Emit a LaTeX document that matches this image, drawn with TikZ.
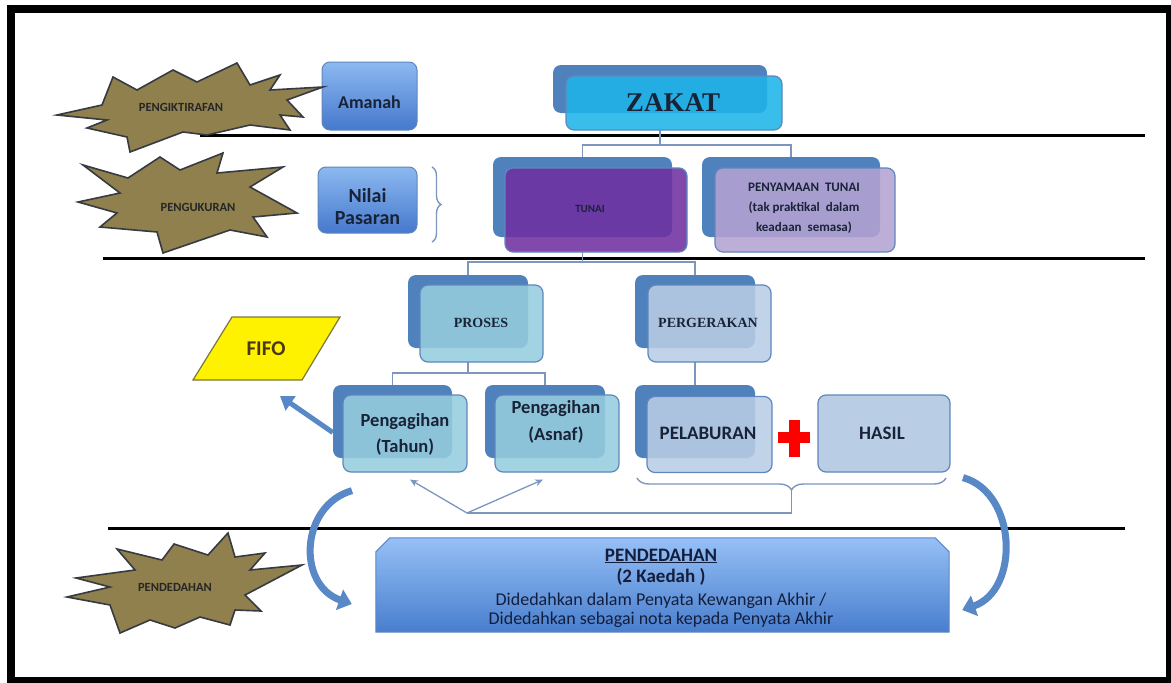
\documentclass[tikz,border=0pt]{standalone}
\usepackage{fontspec}
\setmainfont{Carlito}
\newfontfamily\titlefont{Liberation Serif}
\usetikzlibrary{arrows.meta,decorations.pathreplacing,calc}

\definecolor{smartblue}{RGB}{79,129,189}
\definecolor{boxedge}{RGB}{95,135,190}
\definecolor{connline}{RGB}{125,150,190}
\definecolor{starfill}{RGB}{143,128,78}
\definecolor{staredge}{RGB}{55,58,65}
\definecolor{cyanfront}{RGB}{30,180,232}
\definecolor{purplefront}{RGB}{112,48,160}
\definecolor{lavender}{RGB}{180,163,210}
\definecolor{tealfront}{RGB}{150,205,222}
\definecolor{steelfront}{RGB}{185,205,229}
\definecolor{btop}{RGB}{140,185,240}
\definecolor{bbot}{RGB}{70,120,205}
\definecolor{ptop}{RGB}{150,192,246}
\definecolor{pbot}{RGB}{72,126,206}
\definecolor{arrowblue}{RGB}{88,136,198}
\definecolor{inktext}{RGB}{25,35,55}
\definecolor{fifoedge}{RGB}{120,120,60}
\definecolor{fifotext}{RGB}{75,55,20}

\tikzset{
  backbox/.style={fill=smartblue, rounded corners=8pt, inner sep=0pt},
  frontbox/.style={draw=boxedge, line width=1.2pt, rounded corners=8pt, inner sep=0pt, fill opacity=0.88},
  bluebox/.style={draw=boxedge, line width=1pt, rounded corners=8pt, top color=btop, bottom color=bbot, inner sep=0pt},
  boxtext/.style={inner sep=0pt, align=center, text=inktext},
  conn/.style={draw=connline, line width=1.4pt},
  starshape/.style={fill=starfill, draw=staredge, line width=1.6pt, line join=miter},
  starlabel/.style={inner sep=0pt, font=\bfseries\fontsize{12.5}{14}\selectfont, text=black!85},
  divider/.style={line width=3pt, black},
  bigarrow/.style={draw=arrowblue, line width=7pt, -{Triangle[width=21pt,length=13pt]}},
  thinarrow/.style={draw=connline, line width=1.3pt, -{Stealth[length=8pt,width=7pt]}}
}

\begin{document}
\begin{tikzpicture}[x=1pt,y=-1pt]
\useasboundingbox (0,0) rectangle (1171,683);
\clip (0,0) rectangle (1171,683);
\fill[white] (0,0) rectangle (1171,683);
% outer frame
\draw[line width=8pt] (11,9) rectangle (1170,681);

% section dividers
\draw[divider] (200,135) -- (1145,135);
\draw[divider] (103,258) -- (1145,258);
\draw[divider] (108,528) -- (1125,528);

% ---- boxes: back plates ----
\node[backbox, minimum width=214pt, minimum height=48pt] (zakatB) at (660,89) {};
\node[backbox, minimum width=179pt, minimum height=80pt] (tunaiB) at (582.5,197) {};
\node[backbox, minimum width=178pt, minimum height=80pt] (penyB) at (791,197) {};
\node[backbox, minimum width=120pt, minimum height=73pt] (prosesB) at (468,311.5) {};
\node[backbox, minimum width=120pt, minimum height=73pt] (pergB) at (695,311.5) {};
\node[backbox, minimum width=119pt, minimum height=73pt] (tahunB) at (392.5,421.5) {};
\node[backbox, minimum width=120pt, minimum height=73pt] (asnafB) at (545,421.5) {};
\node[backbox, minimum width=120pt, minimum height=73pt] (pelabB) at (695,421.5) {};

% ---- tree connectors ----
\draw[conn] (zakatB.center |- 0,130) -- (zakatB.center |- 0,145) -| (tunaiB.north);
\draw[conn] (zakatB.center |- 0,145) -| (penyB.north);
\draw[conn] (tunaiB.center |- 0,252) -- (tunaiB.center |- 0,262) -| (prosesB.north);
\draw[conn] (tunaiB.center |- 0,262) -| (pergB.north);
\draw[conn] (prosesB.center |- 0,362) -- (prosesB.center |- 0,373) -| (tahunB.north);
\draw[conn] (prosesB.center |- 0,373) -| (asnafB.north);
\draw[conn] (pergB.center |- 0,362) -- (pelabB.north);

% ---- boxes: front plates ----
\node[frontbox, fill=cyanfront, minimum width=216pt, minimum height=54pt] (zakatF) at (674,103) {};
\node[frontbox, fill=purplefront, minimum width=182pt, minimum height=84pt] (tunaiF) at (596,210) {};
\node[frontbox, fill=lavender, minimum width=180pt, minimum height=84pt] (penyF) at (805,210) {};
\node[frontbox, fill=tealfront, minimum width=123pt, minimum height=77pt] (prosesF) at (481.5,323.5) {};
\node[frontbox, fill=steelfront, minimum width=123pt, minimum height=77pt] (pergF) at (709.5,323.5) {};
\node[frontbox, fill=tealfront, minimum width=124pt, minimum height=77pt] (tahunF) at (405,433.5) {};
\node[frontbox, fill=tealfront, minimum width=124pt, minimum height=77pt] (asnafF) at (557,433.5) {};
\node[frontbox, fill=steelfront, minimum width=125pt, minimum height=76pt] (pelabF) at (709.5,434.5) {};
\node[frontbox, fill=steelfront, fill opacity=1, minimum width=132pt, minimum height=77pt] (hasil) at (884,433.5) {};

% ---- box texts ----
\node[boxtext, font=\titlefont\bfseries\fontsize{27}{28}\selectfont] (zakatT) at (673,103) {ZAKAT};
\node[boxtext, font=\bfseries\fontsize{11}{12}\selectfont] (tunaiT) at (590,209) {TUNAI};
\node[boxtext, font=\bfseries\fontsize{13}{20}\selectfont] (penyT) at (804,208) {PENYAMAAN~~TUNAI\\(tak praktikal~ dalam\\keadaan~ semasa)};
\node[boxtext, font=\titlefont\bfseries\fontsize{14}{15}\selectfont] (prosesT) at (481,323) {PROSES};
\node[boxtext, font=\titlefont\bfseries\fontsize{14}{15}\selectfont] (pergT) at (708,323) {PERGERAKAN};
\node[boxtext, font=\bfseries\fontsize{18.5}{26}\selectfont] (tahunT) at (405,434) {Pengagihan\\(Tahun)};
\node[boxtext, font=\bfseries\fontsize{18.5}{27}\selectfont] (asnafT) at (556,421.5) {Pengagihan\\(Asnaf)};
\node[boxtext, font=\bfseries\fontsize{19}{20}\selectfont] (pelabT) at (708,433) {PELABURAN};
\node[boxtext, font=\bfseries\fontsize{19}{20}\selectfont] (hasilT) at (882,433) {HASIL};

% red plus between investment and return
\fill[red] (789,420) rectangle (800,457);
\fill[red] (778,432) rectangle (810,443);

% ---- left column boxes ----
\node[bluebox, minimum width=95pt, minimum height=68pt] (amanah) at (369.5,96) {};
\node[boxtext, font=\bfseries\fontsize{18}{20}\selectfont] (amanahT) at (369.5,102) {Amanah};
\node[bluebox, minimum width=99pt, minimum height=66pt] (nilai) at (367.5,200) {};
\node[boxtext, font=\bfseries\fontsize{20}{22}\selectfont] (nilaiT) at (367.5,207) {Nilai\\Pasaran};
\draw[conn, decorate, decoration={brace, amplitude=9pt}] (432,167) -- (432,242);

% ---- FIFO ----
\draw[fill=yellow, draw=fifoedge, line width=1.2pt] (193,380) -- (232,317) -- (340,317) -- (302,380) -- cycle;
\node[inner sep=0pt, font=\bfseries\fontsize{21}{22}\selectfont, text=fifotext] (fifo) at (266,349) {FIFO};
\coordinate (fifoIn) at (280,396);
\draw[arrowblue, line width=5pt, -{Triangle[width=17pt,length=13pt]}] ([yshift=-11pt]tahunB.west) -- (fifoIn);

% ---- brace under investment + return, feeding back to distribution ----
\draw[conn, decorate, decoration={brace, amplitude=12pt}] (946,478) -- (637,478);
\coordinate (braceTip) at (791.5,490);
\coordinate (vApex) at (467,513);
\draw[conn] (braceTip) -- (791.5,513) -- (vApex);
\draw[thinarrow] (vApex) -- ([xshift=5pt,yshift=-7pt]tahunF.south);
\draw[thinarrow] (vApex) -- ([xshift=-14pt,yshift=-7pt]asnafF.south);

% ---- disclosure box ----
\node[minimum width=573pt, minimum height=94pt, inner sep=0pt] (pend) at (662.5,585) {};
\shade[top color=ptop, bottom color=pbot, draw=boxedge, line width=1pt]
  (pend.south west) -- ([yshift=-14pt]pend.north west) -- ([xshift=14pt]pend.north west)
  -- ([xshift=-14pt]pend.north east) -- ([yshift=-14pt]pend.north east) -- (pend.south east) -- cycle;
\node[boxtext, text={rgb,255:red,20;green,30;blue,60}, font=\fontsize{18}{19}\selectfont] (pendT) at (661,588)
  {{\bfseries\fontsize{19}{22}\selectfont\underline{PENDEDAHAN}}\\[2pt]
   {\bfseries\fontsize{19}{22}\selectfont(2 Kaedah )}\\[4pt]
   Didedahkan dalam Penyata Kewangan Akhir /\\
   Didedahkan sebagai nota kepada Penyata Akhir};

% ---- curved arrows into the disclosure box ----
\draw[bigarrow] ([xshift=-53pt,yshift=-18pt]tahunF.south) .. controls +(-52,15) and +(-55,-19) .. ([xshift=-24pt,yshift=-19pt]pend.west);
\draw[bigarrow] ([xshift=79pt,yshift=-5pt]hasil.south) .. controls +(54,15) and +(58,-20) .. ([xshift=13pt,yshift=-25pt]pend.east);

% ---- explosion labels ----
\draw[starshape] (57,115) -- (102,105) -- (113,77) -- (137,90) -- (173,70) -- (197,82) -- (237,63) -- (250,85)
  -- (280,75) -- (270,90) -- (323,87) -- (287,100) -- (303,117) -- (280,115) -- (290,130) -- (250,125)
  -- (207,135) -- (183,132) -- (130,152) -- (127,137) -- (87,128) -- (107,120) -- cycle;
\node[starlabel] (recog) at (181,107) {PENGIKTIRAFAN};

\draw[starshape] (83,165) -- (128,178) -- (160,157) -- (180,170) -- (223,153) -- (217,173) -- (283,167)
  -- (250,187) -- (297,213) -- (253,217) -- (267,237) -- (230,230) -- (163,253) -- (157,232)
  -- (100,227) -- (117,213) -- (78,202) -- (120,193) -- cycle;
\node[starlabel] (measure) at (198,207) {PENGUKURAN};

\draw[starshape] (228,533) -- (208,555) -- (174,544) -- (162,560) -- (117,549) -- (135,570) -- (76,578)
  -- (110,587) -- (67,597) -- (110,605) -- (120,633) -- (150,620) -- (175,628) -- (200,617)
  -- (230,625) -- (235,610) -- (261,611) -- (245,595) -- (302,565) -- (250,570) -- (265,553)
  -- (235,557) -- cycle;
\node[starlabel] (disclose) at (175,587) {PENDEDAHAN};
\end{tikzpicture}
\end{document}
